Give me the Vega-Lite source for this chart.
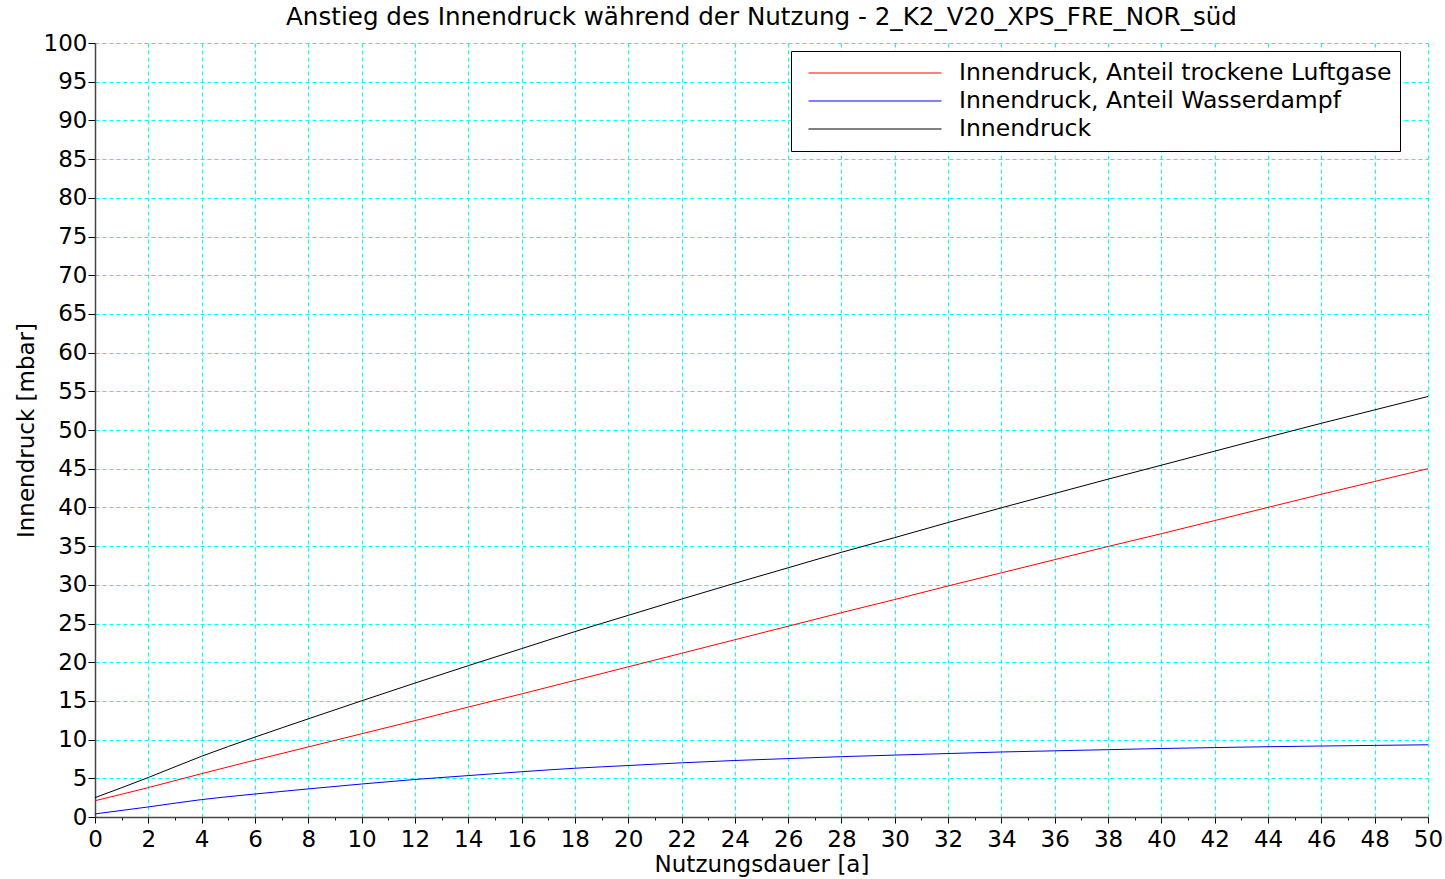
{
  "$schema": "https://vega.github.io/schema/vega-lite/v6.json",
  "width": 1333,
  "height": 774,
  "autosize": {"type": "none"},
  "padding": {"left": 95, "top": 43, "right": 17, "bottom": 62},
  "background": "white",
  "config": {
    "font": "DejaVu Sans",
    "view": {"stroke": null},
    "title": {"fontSize": 24.6, "fontWeight": "normal", "color": "black", "anchor": "middle", "frame": "group", "offset": 1}
  },
  "title": "Anstieg des Innendruck während der Nutzung - 2_K2_V20_XPS_FRE_NOR_süd",
  "data": {
    "values": [
      {"t": 0, "s": "Innendruck, Anteil trockene Luftgase", "p": 2.1},
      {"t": 2, "s": "Innendruck, Anteil trockene Luftgase", "p": 3.8},
      {"t": 4, "s": "Innendruck, Anteil trockene Luftgase", "p": 5.6},
      {"t": 6, "s": "Innendruck, Anteil trockene Luftgase", "p": 7.35},
      {"t": 8, "s": "Innendruck, Anteil trockene Luftgase", "p": 9.05},
      {"t": 10, "s": "Innendruck, Anteil trockene Luftgase", "p": 10.75},
      {"t": 12, "s": "Innendruck, Anteil trockene Luftgase", "p": 12.45},
      {"t": 14, "s": "Innendruck, Anteil trockene Luftgase", "p": 14.2},
      {"t": 16, "s": "Innendruck, Anteil trockene Luftgase", "p": 15.9},
      {"t": 18, "s": "Innendruck, Anteil trockene Luftgase", "p": 17.65},
      {"t": 20, "s": "Innendruck, Anteil trockene Luftgase", "p": 19.4},
      {"t": 22, "s": "Innendruck, Anteil trockene Luftgase", "p": 21.15},
      {"t": 24, "s": "Innendruck, Anteil trockene Luftgase", "p": 22.9},
      {"t": 26, "s": "Innendruck, Anteil trockene Luftgase", "p": 24.65},
      {"t": 28, "s": "Innendruck, Anteil trockene Luftgase", "p": 26.4},
      {"t": 30, "s": "Innendruck, Anteil trockene Luftgase", "p": 28.1},
      {"t": 32, "s": "Innendruck, Anteil trockene Luftgase", "p": 29.85},
      {"t": 34, "s": "Innendruck, Anteil trockene Luftgase", "p": 31.55},
      {"t": 36, "s": "Innendruck, Anteil trockene Luftgase", "p": 33.25},
      {"t": 38, "s": "Innendruck, Anteil trockene Luftgase", "p": 34.95},
      {"t": 40, "s": "Innendruck, Anteil trockene Luftgase", "p": 36.6},
      {"t": 42, "s": "Innendruck, Anteil trockene Luftgase", "p": 38.3},
      {"t": 44, "s": "Innendruck, Anteil trockene Luftgase", "p": 40.0},
      {"t": 46, "s": "Innendruck, Anteil trockene Luftgase", "p": 41.7},
      {"t": 48, "s": "Innendruck, Anteil trockene Luftgase", "p": 43.35},
      {"t": 50, "s": "Innendruck, Anteil trockene Luftgase", "p": 45.0},
      {"t": 0, "s": "Innendruck, Anteil Wasserdampf", "p": 0.4},
      {"t": 2, "s": "Innendruck, Anteil Wasserdampf", "p": 1.3},
      {"t": 4, "s": "Innendruck, Anteil Wasserdampf", "p": 2.25},
      {"t": 6, "s": "Innendruck, Anteil Wasserdampf", "p": 2.97},
      {"t": 8, "s": "Innendruck, Anteil Wasserdampf", "p": 3.63},
      {"t": 10, "s": "Innendruck, Anteil Wasserdampf", "p": 4.26},
      {"t": 12, "s": "Innendruck, Anteil Wasserdampf", "p": 4.85},
      {"t": 14, "s": "Innendruck, Anteil Wasserdampf", "p": 5.35},
      {"t": 16, "s": "Innendruck, Anteil Wasserdampf", "p": 5.85},
      {"t": 18, "s": "Innendruck, Anteil Wasserdampf", "p": 6.3},
      {"t": 20, "s": "Innendruck, Anteil Wasserdampf", "p": 6.65},
      {"t": 22, "s": "Innendruck, Anteil Wasserdampf", "p": 7.0},
      {"t": 24, "s": "Innendruck, Anteil Wasserdampf", "p": 7.3},
      {"t": 26, "s": "Innendruck, Anteil Wasserdampf", "p": 7.55},
      {"t": 28, "s": "Innendruck, Anteil Wasserdampf", "p": 7.8},
      {"t": 30, "s": "Innendruck, Anteil Wasserdampf", "p": 8.0},
      {"t": 32, "s": "Innendruck, Anteil Wasserdampf", "p": 8.2},
      {"t": 34, "s": "Innendruck, Anteil Wasserdampf", "p": 8.4},
      {"t": 36, "s": "Innendruck, Anteil Wasserdampf", "p": 8.55},
      {"t": 38, "s": "Innendruck, Anteil Wasserdampf", "p": 8.7},
      {"t": 40, "s": "Innendruck, Anteil Wasserdampf", "p": 8.85},
      {"t": 42, "s": "Innendruck, Anteil Wasserdampf", "p": 8.97},
      {"t": 44, "s": "Innendruck, Anteil Wasserdampf", "p": 9.08},
      {"t": 46, "s": "Innendruck, Anteil Wasserdampf", "p": 9.17},
      {"t": 48, "s": "Innendruck, Anteil Wasserdampf", "p": 9.25},
      {"t": 50, "s": "Innendruck, Anteil Wasserdampf", "p": 9.33},
      {"t": 0, "s": "Innendruck", "p": 2.5},
      {"t": 2, "s": "Innendruck", "p": 5.1},
      {"t": 4, "s": "Innendruck", "p": 7.85},
      {"t": 6, "s": "Innendruck", "p": 10.32},
      {"t": 8, "s": "Innendruck", "p": 12.68},
      {"t": 10, "s": "Innendruck", "p": 15.01},
      {"t": 12, "s": "Innendruck", "p": 17.3},
      {"t": 14, "s": "Innendruck", "p": 19.55},
      {"t": 16, "s": "Innendruck", "p": 21.75},
      {"t": 18, "s": "Innendruck", "p": 23.95},
      {"t": 20, "s": "Innendruck", "p": 26.05},
      {"t": 22, "s": "Innendruck", "p": 28.15},
      {"t": 24, "s": "Innendruck", "p": 30.2},
      {"t": 26, "s": "Innendruck", "p": 32.2},
      {"t": 28, "s": "Innendruck", "p": 34.2},
      {"t": 30, "s": "Innendruck", "p": 36.1},
      {"t": 32, "s": "Innendruck", "p": 38.05},
      {"t": 34, "s": "Innendruck", "p": 39.95},
      {"t": 36, "s": "Innendruck", "p": 41.8},
      {"t": 38, "s": "Innendruck", "p": 43.65},
      {"t": 40, "s": "Innendruck", "p": 45.45},
      {"t": 42, "s": "Innendruck", "p": 47.27},
      {"t": 44, "s": "Innendruck", "p": 49.08},
      {"t": 46, "s": "Innendruck", "p": 50.87},
      {"t": 48, "s": "Innendruck", "p": 52.6},
      {"t": 50, "s": "Innendruck", "p": 54.33}
    ]
  },
  "mark": {"type": "line", "strokeWidth": 1, "interpolate": "monotone"},
  "encoding": {
    "x": {
      "field": "t", "type": "quantitative",
      "scale": {"domain": [0, 50], "nice": false, "zero": false},
      "axis": {
        "title": "Nutzungsdauer [a]",
        "values": [0,1,2,3,4,5,6,7,8,9,10,11,12,13,14,15,16,17,18,19,20,21,22,23,24,25,26,27,28,29,30,31,32,33,34,35,36,37,38,39,40,41,42,43,44,45,46,47,48,49,50],
        "labelExpr": "datum.value % 2 == 0 ? datum.label : ''",
        "labelFontSize": 23, "labelColor": "black", "labelPadding": 5,
        "labelFlush": false, "labelOverlap": false,
        "titleFontSize": 23, "titleFontWeight": "normal", "titleColor": "black", "titlePadding": 2,
        "domainColor": "#444", "domainWidth": 1.5,
        "tickColor": "black",
        "tickSize": {"condition": {"test": "datum.value % 2 == 1", "value": 3}, "value": 6},
        "grid": true, "gridDash": [4, 3], "gridWidth": 1,
        "gridColor": {"condition": {"test": "datum.value % 2 == 1", "value": "rgba(0,0,0,0)"}, "value": "#00ffff"}
      }
    },
    "y": {
      "field": "p", "type": "quantitative",
      "scale": {"domain": [0, 100], "nice": false},
      "axis": {
        "title": "Innendruck [mbar]",
        "values": [0,5,10,15,20,25,30,35,40,45,50,55,60,65,70,75,80,85,90,95,100],
        "labelFontSize": 23, "labelColor": "black", "labelPadding": 1,
        "labelFlush": false, "labelOverlap": false,
        "titleFontSize": 23, "titleFontWeight": "normal", "titleColor": "black", "titlePadding": 5,
        "domainColor": "#444", "domainWidth": 1.5,
        "tickColor": "black", "tickSize": 7,
        "grid": true, "gridColor": "#00ffff", "gridDash": [4, 3], "gridWidth": 1
      }
    },
    "color": {
      "field": "s", "type": "nominal",
      "scale": {
        "domain": ["Innendruck, Anteil trockene Luftgase", "Innendruck, Anteil Wasserdampf", "Innendruck"],
        "range": ["#ff0000", "#0000ff", "#000000"]
      },
      "legend": {
        "title": null,
        "orient": "none", "legendX": 696, "legendY": 8,
        "strokeColor": "black", "fillColor": "white", "padding": 8,
        "symbolType": "stroke", "symbolSize": 17689, "symbolStrokeWidth": 1,
        "symbolOffset": 9,
        "clipHeight": 28, "rowPadding": 0,
        "labelFontSize": 23.5, "labelColor": "black", "labelOffset": 17, "labelLimit": 600
      }
    }
  }
}
